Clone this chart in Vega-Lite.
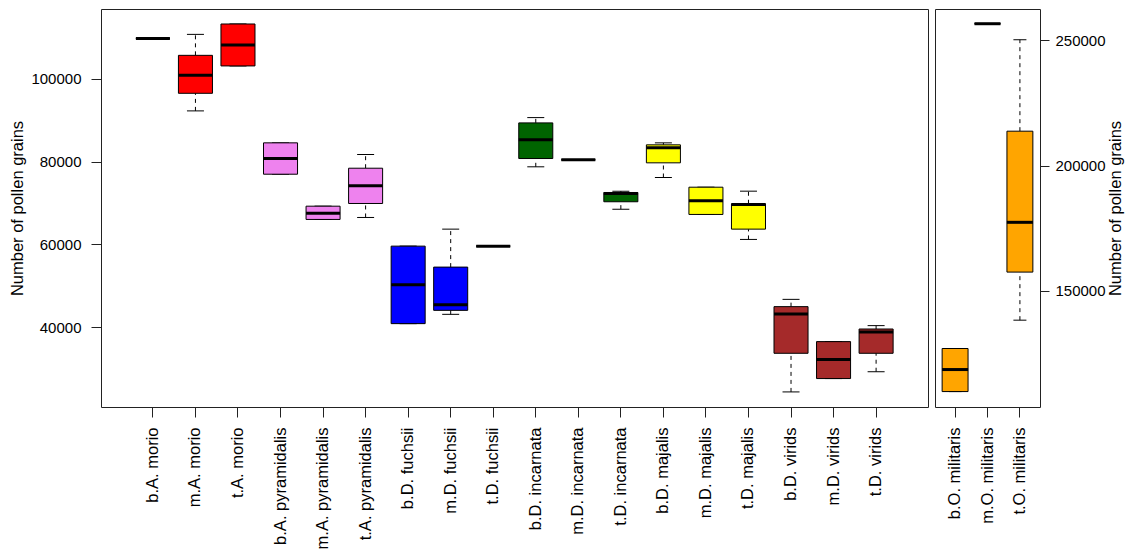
{
  "$schema": "https://vega.github.io/schema/vega-lite/v6.json",
  "padding": {"left": 9, "top": 8, "right": 5, "bottom": 0},
  "spacing": 5,
  "datasets": {
    "boxes": [
      {"panel": "L", "group": "b.A. morio", "species": "morio", "lower": 109800, "q1": 109800, "median": 109800, "q3": 109800, "upper": 109800},
      {"panel": "L", "group": "m.A. morio", "species": "morio", "lower": 92270, "q1": 96520, "median": 100870, "q3": 105700, "upper": 110770},
      {"panel": "L", "group": "t.A. morio", "species": "morio", "lower": 103140, "q1": 103140, "median": 108200, "q3": 113280, "upper": 113280},
      {"panel": "L", "group": "b.A. pyramidalis", "species": "pyramidalis", "lower": 76960, "q1": 76960, "median": 80750, "q3": 84540, "upper": 84540},
      {"panel": "L", "group": "m.A. pyramidalis", "species": "pyramidalis", "lower": 66020, "q1": 66020, "median": 67540, "q3": 69230, "upper": 69230},
      {"panel": "L", "group": "t.A. pyramidalis", "species": "pyramidalis", "lower": 66500, "q1": 69880, "median": 74160, "q3": 78410, "upper": 81720},
      {"panel": "L", "group": "b.D. fuchsii", "species": "fuchsii", "lower": 40830, "q1": 40830, "median": 50250, "q3": 59570, "upper": 59570},
      {"panel": "L", "group": "m.D. fuchsii", "species": "fuchsii", "lower": 43080, "q1": 44040, "median": 45420, "q3": 54500, "upper": 63680},
      {"panel": "L", "group": "t.D. fuchsii", "species": "fuchsii", "lower": 59570, "q1": 59570, "median": 59570, "q3": 59570, "upper": 59570},
      {"panel": "L", "group": "b.D. incarnata", "species": "incarnata", "lower": 78750, "q1": 80750, "median": 85270, "q3": 89370, "upper": 90650},
      {"panel": "L", "group": "m.D. incarnata", "species": "incarnata", "lower": 80440, "q1": 80440, "median": 80440, "q3": 80440, "upper": 80440},
      {"panel": "L", "group": "t.D. incarnata", "species": "incarnata", "lower": 68510, "q1": 70300, "median": 72300, "q3": 72540, "upper": 72860},
      {"panel": "L", "group": "b.D. majalis", "species": "majalis", "lower": 76160, "q1": 79710, "median": 83340, "q3": 84060, "upper": 84540},
      {"panel": "L", "group": "m.D. majalis", "species": "majalis", "lower": 67230, "q1": 67230, "median": 70540, "q3": 73820, "upper": 73820},
      {"panel": "L", "group": "t.D. majalis", "species": "majalis", "lower": 61190, "q1": 63680, "median": 69640, "q3": 69810, "upper": 72860},
      {"panel": "L", "group": "b.D. virids", "species": "virids", "lower": 24320, "q1": 33660, "median": 43150, "q3": 44940, "upper": 46700},
      {"panel": "L", "group": "m.D. virids", "species": "virids", "lower": 27550, "q1": 27550, "median": 32140, "q3": 36480, "upper": 36480},
      {"panel": "L", "group": "t.D. virids", "species": "virids", "lower": 29200, "q1": 33660, "median": 38800, "q3": 39530, "upper": 40350},
      {"panel": "R", "group": "b.O. militaris", "species": "militaris", "lower": 109760, "q1": 109760, "median": 118560, "q3": 126960, "upper": 126960},
      {"panel": "R", "group": "m.O. militaris", "species": "militaris", "lower": 256680, "q1": 256680, "median": 256680, "q3": 256680, "upper": 256680},
      {"panel": "R", "group": "t.O. militaris", "species": "militaris", "lower": 138280, "q1": 157480, "median": 177360, "q3": 213760, "upper": 250280}
    ]
  },
  "data": {"name": "boxes"},
  "config": {
    "view": {"stroke": "#222222", "strokeWidth": 1},
    "font": "Liberation Sans",
    "axis": {
      "domain": false,
      "grid": false,
      "tickColor": "#222222",
      "tickSize": 10,
      "labelFont": "Liberation Sans",
      "labelFontSize": 15,
      "labelColor": "#000000",
      "titleFont": "Liberation Sans",
      "titleFontSize": 16.5,
      "titleFontWeight": "normal",
      "titleColor": "#000000"
    }
  },
  "hconcat": [
    {
      "width": 827,
      "height": 398,
      "transform": [{"filter": "datum.panel === 'L'"}],
      "encoding": {
        "x": {
          "field": "group", "type": "nominal", "sort": null,
          "scale": {"paddingInner": 0.2, "paddingOuter": 0.82},
          "axis": {"title": null, "labelAngle": 270, "labelAlign": "right", "labelBaseline": "middle", "labelPadding": 10, "labelLimit": 0, "labelFontSize": 16.5}
        }
      },
      "layer": [
        {
          "mark": {"type": "rule", "strokeDash": [4, 4], "color": "#000000", "strokeWidth": 1},
          "encoding": {
            "y": {"field": "q3", "type": "quantitative",
              "scale": {"domain": [20673, 116905], "nice": false, "zero": false},
              "axis": {"title": "Number of pollen grains", "values": [40000, 60000, 80000, 100000], "format": "d", "labelPadding": 10, "titlePadding": 5}},
            "y2": {"field": "upper"}
          }
        },
        {
          "mark": {"type": "rule", "strokeDash": [4, 4], "color": "#000000", "strokeWidth": 1},
          "encoding": {"y": {"field": "lower", "type": "quantitative",
              "axis": {"title": "Number of pollen grains", "values": [40000, 60000, 80000, 100000], "format": "d", "labelPadding": 10, "titlePadding": 5}},
            "y2": {"field": "q1"}}
        },
        {
          "mark": {"type": "tick", "size": 17, "thickness": 1, "color": "#000000", "opacity": 1},
          "encoding": {"y": {"field": "upper", "type": "quantitative",
              "axis": {"title": "Number of pollen grains", "values": [40000, 60000, 80000, 100000], "format": "d", "labelPadding": 10, "titlePadding": 5}}}
        },
        {
          "mark": {"type": "tick", "size": 17, "thickness": 1, "color": "#000000", "opacity": 1},
          "encoding": {"y": {"field": "lower", "type": "quantitative",
              "axis": {"title": "Number of pollen grains", "values": [40000, 60000, 80000, 100000], "format": "d", "labelPadding": 10, "titlePadding": 5}}}
        },
        {
          "mark": {"type": "bar", "stroke": "#000000", "strokeWidth": 1, "opacity": 1},
          "encoding": {
            "y": {"field": "q1", "type": "quantitative",
              "axis": {"title": "Number of pollen grains", "values": [40000, 60000, 80000, 100000], "format": "d", "labelPadding": 10, "titlePadding": 5}},
            "y2": {"field": "q3"},
            "color": {"field": "species", "type": "nominal", "legend": null,
              "scale": {"domain": ["morio", "pyramidalis", "fuchsii", "incarnata", "majalis", "virids", "militaris"],
                        "range": ["#FF0000", "#EE82EE", "#0000FF", "#006400", "#FFFF00", "#A52A2A", "#FFA500"]}}
          }
        },
        {
          "mark": {"type": "tick", "size": 34, "thickness": 3, "color": "#000000", "opacity": 1},
          "encoding": {"y": {"field": "median", "type": "quantitative",
              "axis": {"title": "Number of pollen grains", "values": [40000, 60000, 80000, 100000], "format": "d", "labelPadding": 10, "titlePadding": 5}}}
        }
      ]
    },
    {
      "width": 105,
      "height": 398,
      "transform": [{"filter": "datum.panel === 'R'"}],
      "encoding": {
        "x": {
          "field": "group", "type": "nominal", "sort": null,
          "scale": {"paddingInner": 0.2, "paddingOuter": 0.22},
          "axis": {"title": null, "labelAngle": 270, "labelAlign": "right", "labelBaseline": "middle", "labelPadding": 10, "labelLimit": 0, "labelFontSize": 16.5}
        }
      },
      "layer": [
        {
          "mark": {"type": "rule", "strokeDash": [4, 4], "color": "#000000", "strokeWidth": 1},
          "encoding": {
            "y": {"field": "q3", "type": "quantitative",
              "scale": {"domain": [103600, 262560], "nice": false, "zero": false},
              "axis": {"orient": "right", "title": "Number of pollen grains", "values": [150000, 200000, 250000], "format": "d", "tickSize": 9, "labelPadding": 6, "titlePadding": 2, "titleAngle": 270, "titleBaseline": "top"}},
            "y2": {"field": "upper"}
          }
        },
        {
          "mark": {"type": "rule", "strokeDash": [4, 4], "color": "#000000", "strokeWidth": 1},
          "encoding": {"y": {"field": "lower", "type": "quantitative",
              "axis": {"orient": "right", "title": "Number of pollen grains", "values": [150000, 200000, 250000], "format": "d", "tickSize": 9, "labelPadding": 6, "titlePadding": 2, "titleAngle": 270, "titleBaseline": "top"}},
            "y2": {"field": "q1"}}
        },
        {
          "mark": {"type": "tick", "size": 13, "thickness": 1, "color": "#000000", "opacity": 1},
          "encoding": {"y": {"field": "upper", "type": "quantitative",
              "axis": {"orient": "right", "title": "Number of pollen grains", "values": [150000, 200000, 250000], "format": "d", "tickSize": 9, "labelPadding": 6, "titlePadding": 2, "titleAngle": 270, "titleBaseline": "top"}}}
        },
        {
          "mark": {"type": "tick", "size": 13, "thickness": 1, "color": "#000000", "opacity": 1},
          "encoding": {"y": {"field": "lower", "type": "quantitative",
              "axis": {"orient": "right", "title": "Number of pollen grains", "values": [150000, 200000, 250000], "format": "d", "tickSize": 9, "labelPadding": 6, "titlePadding": 2, "titleAngle": 270, "titleBaseline": "top"}}}
        },
        {
          "mark": {"type": "bar", "stroke": "#000000", "strokeWidth": 1, "opacity": 1},
          "encoding": {
            "y": {"field": "q1", "type": "quantitative",
              "axis": {"orient": "right", "title": "Number of pollen grains", "values": [150000, 200000, 250000], "format": "d", "tickSize": 9, "labelPadding": 6, "titlePadding": 2, "titleAngle": 270, "titleBaseline": "top"}},
            "y2": {"field": "q3"},
            "color": {"field": "species", "type": "nominal", "legend": null}
          }
        },
        {
          "mark": {"type": "tick", "size": 26, "thickness": 3, "color": "#000000", "opacity": 1},
          "encoding": {"y": {"field": "median", "type": "quantitative",
              "axis": {"orient": "right", "title": "Number of pollen grains", "values": [150000, 200000, 250000], "format": "d", "tickSize": 9, "labelPadding": 6, "titlePadding": 2, "titleAngle": 270, "titleBaseline": "top"}}}
        }
      ]
    }
  ]
}
